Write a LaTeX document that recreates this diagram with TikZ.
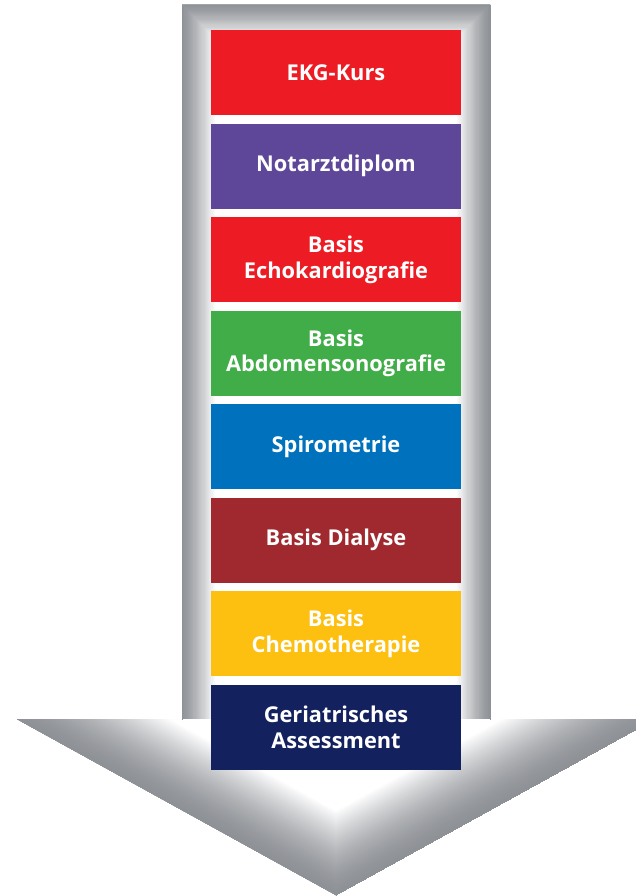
\documentclass[tikz,border=0pt]{standalone}
\usepackage{fontspec}
\setmainfont{Open Sans}
\definecolor{edgegray}{HTML}{8E9196}
\definecolor{cRed}{HTML}{ED1C24}
\definecolor{cPurple}{HTML}{5E4699}
\definecolor{cGreen}{HTML}{41AD49}
\definecolor{cBlue}{HTML}{0071BC}
\definecolor{cDarkRed}{HTML}{A0292F}
\definecolor{cYellow}{HTML}{FDC010}
\definecolor{cNavy}{HTML}{13215E}
\tikzset{
  course/.style={fill=#1, draw=none, minimum width=250pt, minimum height=85pt,
    inner sep=0pt, anchor=north, text=white, align=center,
    font=\fontsize{21.8}{25.5}\selectfont\bfseries},
}
\begin{document}
\begin{tikzpicture}[x=1pt,y=-1pt]
\useasboundingbox (0,0) rectangle (636,896);
% arrow body with inner edge shading
\begin{scope}
  \clip (182,5) -- (490,5) -- (490,719) -- (655,719) -- (336,895) -- (17,719) -- (182,719) -- cycle;
  \fill[white] (0,0) rectangle (700,900);
  % head edges
  \foreach \i in {0,...,40} {
    \pgfmathsetmacro{\w}{2*75*(40-\i)/40}
    \pgfmathsetmacro{\p}{100*((40-\i)/40)^1.6}
    \draw[line width=\w pt, color=white!\p!edgegray, line join=miter]
      (17,719) -- (336,895) -- (655,719);
  }
  % shaft edges
  \foreach \i in {0,...,30} {
    \pgfmathsetmacro{\w}{2*34*(30-\i)/30}
    \pgfmathsetmacro{\p}{100*((30-\i)/30)^1.3}
    \draw[line width=\w pt, color=white!\p!edgegray, line join=miter]
      (182,719) -- (182,5) -- (490,5) -- (490,719);
  }
\end{scope}
% course boxes
\node[course=cRed]     (b1) at (336,30)    {EKG-Kurs};
\node[course=cPurple]  (b2) at (336,123.5) {Notarztdiplom};
\node[course=cRed]     (b3) at (336,217)   {Basis\\Echokardiografie};
\node[course=cGreen]   (b4) at (336,310.5) {Basis\\Abdomensonografie};
\node[course=cBlue]    (b5) at (336,404)   {Spirometrie};
\node[course=cDarkRed] (b6) at (336,497.5) {Basis Dialyse};
\node[course=cYellow]  (b7) at (336,591)   {Basis\\Chemotherapie};
\node[course=cNavy]    (b8) at (336,684.5) {Geriatrisches\\Assessment};
\end{tikzpicture}
\end{document}
